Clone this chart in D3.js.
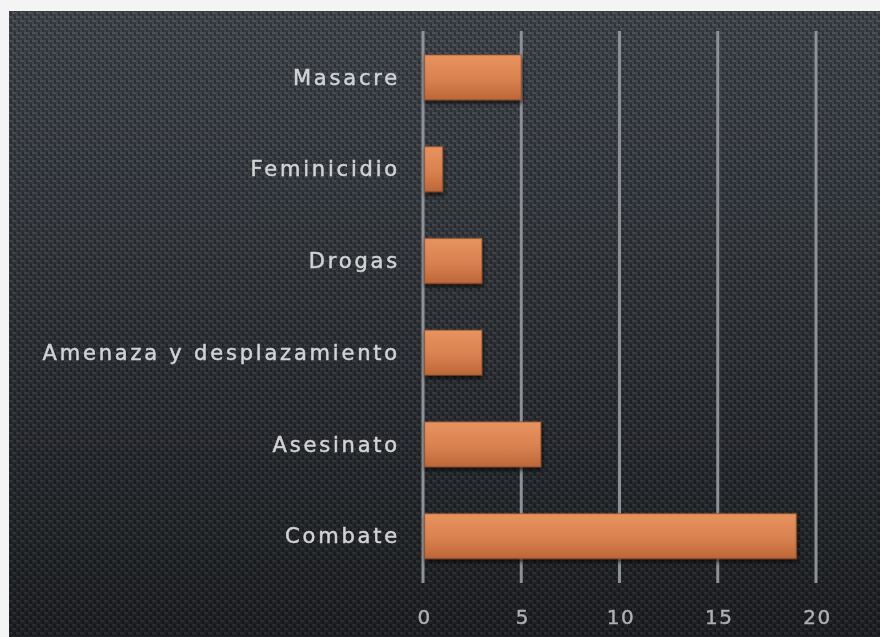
<!DOCTYPE html>
<html><head><meta charset="utf-8">
<script src="https://cdn.jsdelivr.net/npm/d3@7"></script>
<style>
html,body{margin:0;padding:0;background:#f4f4f4;}
svg{display:block;}
</style></head>
<body>
<svg id="chart" width="880" height="637"></svg>
<script>
const categories = ["Masacre","Feminicidio","Drogas","Amenaza y desplazamiento","Asesinato","Combate"];
const values = [5,1,3,3,6,19];
const tickValues = [0,5,10,15,20];

const W = 880, H = 637;
const svg = d3.select("#chart");
const defs = svg.append("defs");

const bg = defs.append("linearGradient").attr("id","bgGrad").attr("x1",0).attr("y1",0).attr("x2",0).attr("y2",1);
bg.append("stop").attr("offset","0%").attr("stop-color","#42474e");
bg.append("stop").attr("offset","50%").attr("stop-color","#2f3338");
bg.append("stop").attr("offset","100%").attr("stop-color","#1c1e21");

const pat = defs.append("pattern").attr("id","carbon").attr("width",8).attr("height",8).attr("patternUnits","userSpaceOnUse");
pat.append("rect").attr("x",0).attr("y",0).attr("width",4).attr("height",4).attr("fill","rgba(255,255,255,0.06)");
pat.append("rect").attr("x",4).attr("y",4).attr("width",4).attr("height",4).attr("fill","rgba(255,255,255,0.06)");
pat.append("rect").attr("x",0).attr("y",2).attr("width",4).attr("height",2).attr("fill","rgba(0,0,0,0.28)");
pat.append("rect").attr("x",4).attr("y",6).attr("width",4).attr("height",2).attr("fill","rgba(0,0,0,0.28)");
pat.append("rect").attr("x",2).attr("y",4).attr("width",2).attr("height",4).attr("fill","rgba(0,0,0,0.28)");
pat.append("rect").attr("x",6).attr("y",0).attr("width",2).attr("height",4).attr("fill","rgba(0,0,0,0.28)");

const bgr = defs.append("linearGradient").attr("id","barGrad").attr("x1",0).attr("y1",0).attr("x2",0).attr("y2",1);
bgr.append("stop").attr("offset","0%").attr("stop-color","#e8935f");
bgr.append("stop").attr("offset","55%").attr("stop-color","#d9814f");
bgr.append("stop").attr("offset","100%").attr("stop-color","#bd6637");

const shadow = defs.append("filter").attr("id","shadow").attr("x","-10%").attr("y","-20%").attr("width","130%").attr("height","160%");
shadow.append("feDropShadow").attr("dx",1).attr("dy",3).attr("stdDeviation",2).attr("flood-color","#000").attr("flood-opacity",0.7);

const bx = 9, by = 11;
svg.append("rect").attr("x",bx).attr("y",by).attr("width",W-bx).attr("height",H-by).attr("fill","url(#bgGrad)");
svg.append("rect").attr("x",bx).attr("y",by).attr("width",W-bx).attr("height",H-by).attr("fill","url(#carbon)");

const x = d3.scaleLinear().domain([0,20]).range([423,816]);
const y = d3.scaleBand().domain(categories).range([31.5,582]).paddingInner(0.51).paddingOuter(0.255);

svg.append("g").selectAll("line").data(tickValues).join("line")
  .attr("x1",d=>x(d)).attr("x2",d=>x(d)).attr("y1",31).attr("y2",583)
  .attr("stroke","#8e9196").attr("stroke-width",3);

svg.append("g").selectAll("rect").data(values).join("rect")
  .attr("x",x(0)+1.5)
  .attr("y",(d,i)=>y(categories[i]))
  .attr("width",d=>x(d)-x(0)-1.5)
  .attr("height",y.bandwidth())
  .attr("fill","url(#barGrad)")
  .attr("stroke","#8a5132").attr("stroke-opacity",0.55).attr("stroke-width",1.5)
  .attr("filter","url(#shadow)");

const yAxis = d3.axisLeft(y).tickSize(0).tickPadding(0);
const gy = svg.append("g").attr("transform","translate(400,0)").call(yAxis);
gy.select(".domain").remove();
gy.selectAll("text")
  .attr("fill","#d2d3d5")
  .attr("stroke","#d2d3d5").attr("stroke-width",0.5)
  .attr("font-family","'DejaVu Sans', sans-serif")
  .attr("font-size",21)
  .attr("letter-spacing","2.8px")
  .attr("dy","0.35em")
  .style("filter","blur(0.45px)");

const xAxis = d3.axisBottom(x).tickValues(tickValues).tickSize(0).tickPadding(0);
const gx = svg.append("g").attr("transform","translate(1,617)").call(xAxis);
gx.select(".domain").remove();
gx.selectAll("text")
  .attr("fill","#aeb0b3")
  .attr("stroke","#aeb0b3").attr("stroke-width",0.4)
  .attr("font-family","'DejaVu Sans', sans-serif")
  .attr("font-size",20)
  .attr("letter-spacing","1.5px")
  .attr("dy","0.35em")
  .style("filter","blur(0.45px)");
</script>
</body></html>
